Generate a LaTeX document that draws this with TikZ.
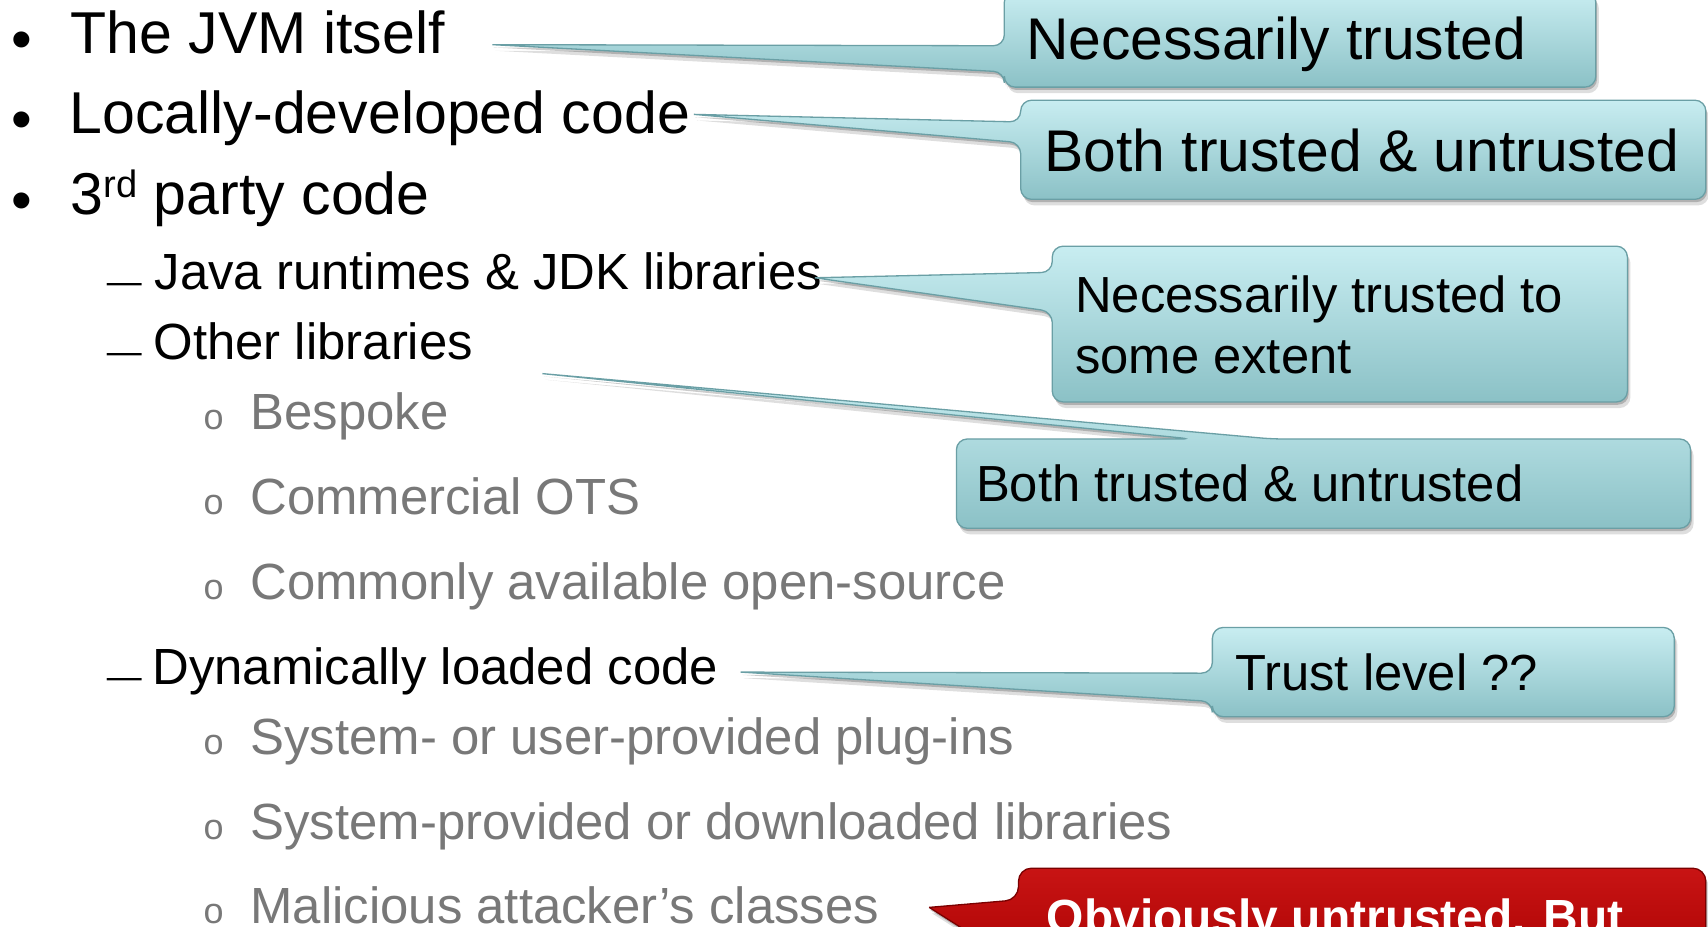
\documentclass[tikz,border=0pt]{standalone}
\usepackage{fontspec}
\setmainfont{Liberation Sans}
\usetikzlibrary{shadows}
\definecolor{tealtop}{HTML}{C8EDF1}
\definecolor{tealbot}{HTML}{8BC1C6}
\definecolor{tealedge}{HTML}{6A9FA5}
\definecolor{redtop}{HTML}{C81414}
\definecolor{redbot}{HTML}{A80000}
\definecolor{rededge}{HTML}{7A0000}
\definecolor{subgray}{HTML}{787878}
\begin{document}
\begin{tikzpicture}[x=0.5pt,y=-0.5pt,
  every node/.style={inner sep=0pt, outer sep=0pt},
  lvlone/.style={anchor=base west, font=\fontsize{27.1pt}{32pt}\selectfont},
  lvltwo/.style={anchor=base west, font=\fontsize{23.35pt}{28pt}\selectfont},
  lvlthree/.style={lvltwo, text=subgray},
  dotmark/.style={anchor=base west, font=\fontsize{27.1pt}{32pt}\selectfont},
  dashmark/.style={anchor=base west, font=\fontsize{16pt}{16pt}\selectfont},
  omark/.style={anchor=base west, text=subgray, font=\fontsize{16.5pt}{18pt}\selectfont},
  boxgeom/.style={rectangle, anchor=north west},
  softshadow/.style={drop shadow={shadow xshift=0.6pt, shadow yshift=-1.3pt, opacity=0.20, fill=black},
                     drop shadow={shadow xshift=1.4pt, shadow yshift=-2.8pt, opacity=0.13, fill=black}},
  tealcallout/.style={softshadow, top color=tealtop, bottom color=tealbot, draw=tealedge, line width=0.6pt, rounded corners=5pt},
  redcallout/.style={softshadow, top color=redtop, bottom color=redbot, draw=rededge, line width=0.6pt, rounded corners=6pt},
  bigtext/.style={anchor=base west, font=\fontsize{27pt}{32pt}\selectfont},
  smalltext/.style={anchor=base west, font=\fontsize{23.3pt}{28pt}\selectfont},
  redtext/.style={anchor=base west, text=white, font=\fontsize{22pt}{26pt}\selectfont\bfseries},
]
\fill[white] (0,0) rectangle (1568,851);
\useasboundingbox (0,0) rectangle (1568,851);
\clip (0,0) rectangle (1568,851);

% ---------- list ----------
\node[dotmark] (d1) at (11,49) {\raisebox{-2.75pt}{•}};
\node[dotmark] (d2) at (11,123) {\raisebox{-2.75pt}{•}};
\node[dotmark] (d3) at (11,197) {\raisebox{-2.75pt}{•}};
\node[lvlone] (jvm) at (65,49) {The JVM itself};
\node[lvlone] (local) at (64,123) {Locally-developed code};
\node[lvlone] (third) at (65,197) {3\raisebox{8pt}{\fontsize{17.5pt}{17.5pt}\selectfont rd} party code};

\node[dashmark] (m1) at (98,266) {\raisebox{-1.9pt}{—}};
\node[dashmark] (m2) at (98,330) {\raisebox{-1.9pt}{—}};
\node[dashmark] (m3) at (98,628) {\raisebox{-1.9pt}{—}};
\node[lvltwo] (javart) at (142,266) {Java runtimes \& JDK libraries};
\node[lvltwo] (otherlib) at (141,330) {Other libraries};
\node[lvltwo] (dyn) at (140,628) {Dynamically loaded code};

\node[omark] (o1) at (187,394) {o};
\node[omark] (o2) at (187,472) {o};
\node[omark] (o3) at (187,550) {o};
\node[omark] (o4) at (187,693) {o};
\node[omark] (o5) at (187,771) {o};
\node[omark] (o6) at (187,848) {o};
\node[lvlthree] (bespoke) at (230,394) {Bespoke};
\node[lvlthree] (cots) at (230,472) {Commercial OTS};
\node[lvlthree] (oss) at (230,550) {Commonly available open-source};
\node[lvlthree] (plugin) at (230,693) {System- or user-provided plug-ins};
\node[lvlthree] (syslib) at (230,771) {System-provided or downloaded libraries};
\node[lvlthree] (malicious) at (230,848) {Malicious attacker’s classes};

% ---------- callout geometry ----------
\node[boxgeom, minimum width=271.5pt, minimum height=44pt] (c1) at (922,-8) {};
\node[boxgeom, minimum width=314.5pt, minimum height=45.5pt] (c2) at (937,92) {};
\node[boxgeom, minimum width=264pt, minimum height=71.5pt] (c3) at (966,226) {};
\node[boxgeom, minimum width=337pt, minimum height=41pt] (c4) at (878,403) {};
\node[boxgeom, minimum width=212pt, minimum height=41pt] (c5) at (1113,576) {};
\node[boxgeom, minimum width=315.5pt, minimum height=51.5pt] (c6) at (935,797) {};

\coordinate (t1) at (452,41);
\coordinate (t2) at (637,105);
\coordinate (t3) at (748,255);
\coordinate (t4) at (498,343);
\coordinate (t5) at (680,617);
\coordinate (t6) at (853,833);

% ---------- callout shapes ----------
\path[tealcallout] (t1) -- (c1.west |- 0,42) -- (c1.north west) -- (c1.north east) -- (c1.south east) -- (c1.south west) -- (c1.west |- 0,66) -- (t1);
\path[tealcallout] (t2) -- (c2.west |- 0,112) -- (c2.north west) -- (c2.north east) -- (c2.south east) -- (c2.south west) -- (c2.west |- 0,131) -- (t2);
\path[tealcallout] (t3) -- (c3.west |- 0,250) -- (c3.north west) -- (c3.north east) -- (c3.south east) -- (c3.south west) -- (c3.west |- 0,286) -- (t3);
\path[tealcallout] (t4) -- (1168,0 |- c4.north) -- (c4.north east) -- (c4.south east) -- (c4.south west) -- (c4.north west) -- (1094,0 |- c4.north) -- (t4);
\path[tealcallout] (t5) -- (c5.west |- 0,618) -- (c5.north west) -- (c5.north east) -- (c5.south east) -- (c5.south west) -- (c5.west |- 0,644) -- (t5);
\path[redcallout] (t6) -- (c6.west |- 0,826) -- (c6.north west) -- (c6.north east) -- (c6.south east) -- (c6.south west) -- (c6.west |- 0,885) -- (t6);

% ---------- callout texts ----------
\node[bigtext] (c1t) at (942,55) {Necessarily trusted};
\node[bigtext] (c2t) at (959,157) {Both trusted \& untrusted};
\node[smalltext] (c3ta) at (987,287) {Necessarily trusted to};
\node[smalltext] (c3tb) at (987,343) {some extent};
\node[smalltext] (c4t) at (896,460) {Both trusted \& untrusted};
\node[smalltext] (c5t) at (1134,634) {Trust level ??};
\node[redtext] (c6t) at (961,857) {Obviously untrusted. But};
\end{tikzpicture}
\end{document}
